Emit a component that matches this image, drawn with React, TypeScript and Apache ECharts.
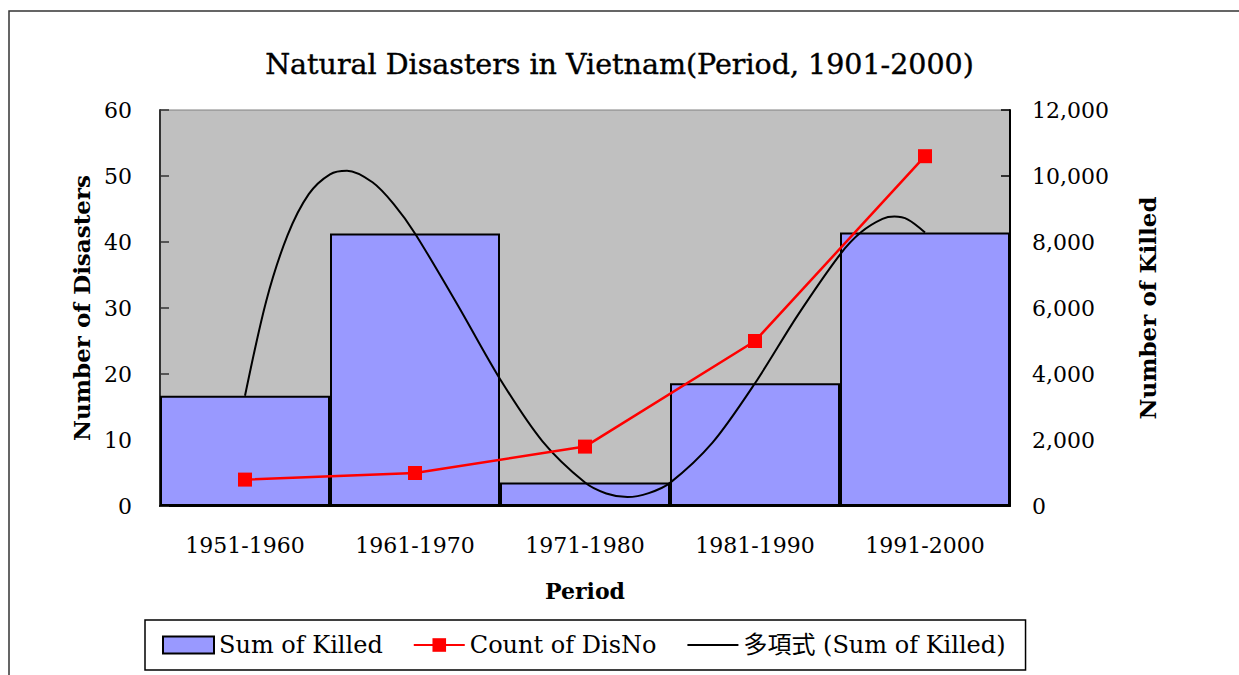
import React, { useEffect, useRef } from "react";
import * as echarts from "echarts";

const categories = ["1951-1960", "1961-1970", "1971-1980", "1981-1990", "1991-2000"];
const sumKilled = [3340, 8260, 710, 3720, 8290];
const countDisNo = [4, 5, 9, 25, 53];
// polynomial trendline: position in category units (0 = first category centre)
const trendPos = [0, 0.125, 0.25, 0.375, 0.5, 0.6, 0.75, 0.875, 1, 1.25, 1.5, 1.75, 2, 2.125, 2.25, 2.375, 2.5, 2.75, 3, 3.25, 3.5, 3.625, 3.75, 3.82, 3.9, 4];
const trendKilled = [3340, 6215, 8200, 9450, 10050, 10160, 9810, 9150, 8260, 6100, 3850, 1960, 710, 380, 270, 390, 700, 1920, 3720, 5770, 7620, 8300, 8700, 8770, 8680, 8290];
const leftTicks = { min: 0, max: 60, interval: 10 };
const rightTicks = { min: 0, max: 12000, interval: 2000 };

const FONT = "'DejaVu Serif', 'Noto Sans CJK JP', serif";

export default function App() {
  const ref = useRef<HTMLDivElement>(null);
  useEffect(() => {
    const chart = echarts.init(ref.current!, null, { renderer: "svg" });
    const trendData = trendPos.map((p, i) => [p + 0.5, trendKilled[i]]);
    chart.setOption({
      animation: false,
      backgroundColor: "#ffffff",
      textStyle: { fontFamily: FONT, color: "#000" },
      title: {
        text: "Natural Disasters in Vietnam(Period, 1901-2000)",
        left: "center",
        top: 45,
        textStyle: { fontFamily: FONT, fontSize: 28.5, fontWeight: "normal", color: "#000", textBorderColor: "#000", textBorderWidth: 0.4 },
      },
      graphic: [
        {
          type: "rect",
          shape: { x: 9, y: 11, width: 1250, height: 700 },
          style: { fill: "none", stroke: "#333", lineWidth: 1.5 },
          silent: true,
        },
      ],
      legend: {
        left: 145,
        top: 620,
        padding: [13, 20, 13, 17],
        itemGap: 30,
        itemWidth: 51,
        itemHeight: 17,
        borderColor: "#000",
        borderWidth: 1.5,
        backgroundColor: "#fff",
        textStyle: { fontFamily: FONT, fontSize: 24, color: "#000" },
        data: [
          { name: "Sum of Killed", icon: "rect" },
          { name: "Count of DisNo" },
          { name: "多項式 (Sum of Killed)", itemStyle: { opacity: 0 } },
        ],
      },
      grid: {
        left: 160,
        right: 229,
        top: 110,
        bottom: 169,
        show: true,
        backgroundColor: "#C0C0C0",
        borderColor: "#808080",
        borderWidth: 1,
      },
      xAxis: [
        {
          type: "category",
          data: categories,
          name: "Period",
          nameLocation: "middle",
          nameGap: 74,
          nameTextStyle: { fontFamily: FONT, fontSize: 22, fontWeight: "bold", color: "#000" },
          axisLine: { lineStyle: { color: "#000", width: 2 } },
          axisTick: { show: false },
          axisLabel: { margin: 28, fontFamily: FONT, fontSize: 22, color: "#000" },
          splitLine: { show: false },
        },
        { type: "value", min: 0, max: 5, show: false },
      ],
      yAxis: [
        {
          type: "value",
          ...leftTicks,
          position: "left",
          name: "Number of Disasters",
          nameLocation: "middle",
          nameRotate: 90,
          nameGap: 64,
          nameTextStyle: { fontFamily: FONT, fontSize: 23, fontWeight: "bold", color: "#000" },
          axisLine: { show: true, lineStyle: { color: "#333", width: 2 } },
          axisTick: { show: true, inside: true, length: 9, lineStyle: { color: "#333", width: 1.5 } },
          axisLabel: { margin: 28, fontFamily: FONT, fontSize: 22, color: "#000" },
          splitLine: { show: false },
        },
        {
          type: "value",
          ...rightTicks,
          position: "right",
          name: "Number of Killed",
          nameLocation: "middle",
          nameRotate: 90,
          nameGap: 126,
          nameTextStyle: { fontFamily: FONT, fontSize: 23, fontWeight: "bold", color: "#000" },
          axisLine: { show: true, lineStyle: { color: "#000", width: 2 } },
          axisTick: { show: true, inside: true, length: 9, lineStyle: { color: "#000", width: 1.5 } },
          axisLabel: {
            margin: 22,
            fontFamily: FONT,
            fontSize: 22,
            color: "#000",
            formatter: (v: number) => v.toLocaleString("en-US"),
          },
          splitLine: { show: false },
        },
      ],
      series: [
        {
          name: "Sum of Killed",
          type: "bar",
          xAxisIndex: 0,
          yAxisIndex: 1,
          data: sumKilled,
          barCategoryGap: "0%",
          itemStyle: { color: "#9999FF", borderColor: "#000", borderWidth: 2 },
          z: 2,
        },
        {
          name: "多項式 (Sum of Killed)",
          type: "line",
          xAxisIndex: 1,
          yAxisIndex: 1,
          data: trendData,
          smooth: 0.3,
          symbol: "none",
          lineStyle: { color: "#000", width: 2 },
          itemStyle: { color: "#000" },
          z: 3,
        },
        {
          name: "Count of DisNo",
          type: "line",
          xAxisIndex: 0,
          yAxisIndex: 0,
          data: countDisNo,
          symbol: "rect",
          symbolSize: 14,
          lineStyle: { color: "#FF0000", width: 2.5 },
          itemStyle: { color: "#FF0000" },
          z: 4,
        },
      ],
    });
    return () => chart.dispose();
  }, []);
  return (
    <div
      ref={ref}
      style={{ position: "fixed", left: 0, top: 0, width: 1239, height: 675 }}
    />
  );
}
